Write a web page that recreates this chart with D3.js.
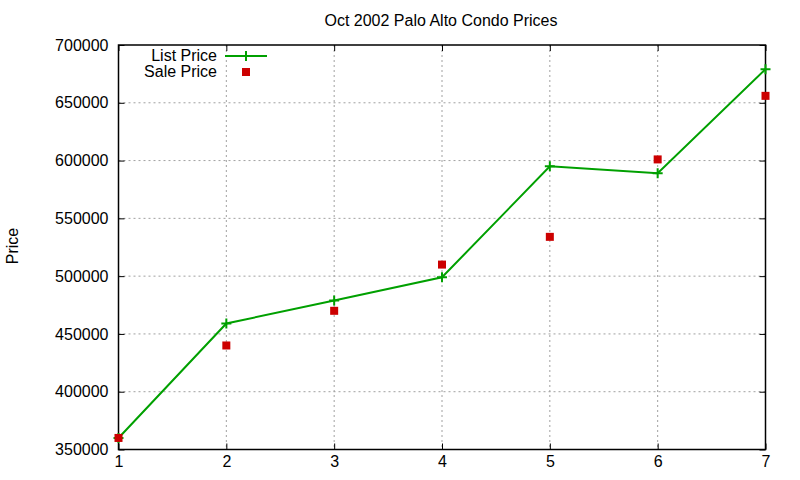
<!DOCTYPE html>
<html>
<head>
<meta charset="utf-8">
<script src="https://cdn.jsdelivr.net/npm/d3@7"></script>
<style>
  body { margin: 0; background: #fff; }
  svg { font-family: "Liberation Sans", Arial, sans-serif; }
</style>
</head>
<body>
<div id="chart"></div>
<script>
// data
var months = [1, 2, 3, 4, 5, 6, 7];
var listPrice = [360000, 459000, 479000, 499000, 595000, 589000, 679000];
var salePrice = [360000, 440000, 470000, 510000, 534000, 601000, 656000];
var yTicks = [350000, 400000, 450000, 500000, 550000, 600000, 650000, 700000];

var width = 800;
var height = 480;
var plotLeft = 118.5, plotRight = 765.5, plotTop = 45, plotBottom = 449.5;

var svg = d3.select("#chart")
  .append("svg")
  .attr("width", width)
  .attr("height", height);

var xScale = d3.scaleLinear().domain([1, 7]).range([plotLeft, plotRight]);
var yScale = d3.scaleLinear().domain([350000, 700000]).range([plotBottom, plotTop]);

// grid
var grid = svg.append("g").attr("class", "grid");
grid.selectAll("line.gx")
  .data(months.slice(1, -1))
  .enter()
  .append("line")
  .attr("x1", function(d) { return xScale(d); })
  .attr("x2", function(d) { return xScale(d); })
  .attr("y1", plotTop)
  .attr("y2", plotBottom);
grid.selectAll("line.gy")
  .data(yTicks.slice(1, -1))
  .enter()
  .append("line")
  .attr("x1", plotLeft)
  .attr("x2", plotRight)
  .attr("y1", function(d) { return yScale(d); })
  .attr("y2", function(d) { return yScale(d); });
grid.selectAll("line")
  .attr("stroke", "#a0a0a0")
  .attr("stroke-width", 1)
  .attr("stroke-dasharray", "2,3");

// axes, ticks inward on all four sides
var xAxis = d3.axisBottom(xScale).tickValues(months).tickSize(-6).tickPadding(6).tickFormat(d3.format("d"));
var xAxisTop = d3.axisTop(xScale).tickValues(months).tickSize(-6).tickFormat("");
var yAxis = d3.axisLeft(yScale).tickValues(yTicks).tickSize(-6).tickPadding(10).tickFormat(d3.format("d"));
var yAxisRight = d3.axisRight(yScale).tickValues(yTicks).tickSize(-6).tickFormat("");

svg.append("g").attr("transform", "translate(0," + plotBottom + ")").call(xAxis);
svg.append("g").attr("transform", "translate(0," + plotTop + ")").call(xAxisTop);
svg.append("g").attr("transform", "translate(" + plotLeft + ",0)").call(yAxis);
svg.append("g").attr("transform", "translate(" + plotRight + ",0)").call(yAxisRight);

svg.selectAll(".domain").remove();
svg.selectAll(".tick line").attr("stroke", "#000").attr("stroke-width", 1);
svg.selectAll(".tick text")
  .attr("fill", "#000")
  .style("font-size", "16px")
  .style("font-family", "Liberation Sans, Arial, sans-serif");

// frame
svg.append("rect")
  .attr("x", plotLeft)
  .attr("y", plotTop)
  .attr("width", plotRight - plotLeft)
  .attr("height", plotBottom - plotTop)
  .attr("fill", "none")
  .attr("stroke", "#000")
  .attr("stroke-width", 1.5);

// title and y label
svg.append("text")
  .attr("x", 441)
  .attr("y", 26)
  .attr("text-anchor", "middle")
  .style("font-size", "16px")
  .text("Oct 2002 Palo Alto Condo Prices");

svg.append("text")
  .attr("transform", "translate(18,246)rotate(-90)")
  .attr("text-anchor", "middle")
  .style("font-size", "16px")
  .text("Price");

// list price line
var green = "#00a000";
var red = "#cc0000";

var line = d3.line()
  .x(function(d, i) { return xScale(months[i]); })
  .y(function(d) { return yScale(d); });

svg.append("path")
  .datum(listPrice)
  .attr("d", line)
  .attr("fill", "none")
  .attr("stroke", green)
  .attr("stroke-width", 2);

function cross(g, x, y) {
  g.append("path")
    .attr("d", "M" + (x - 5) + "," + y + "H" + (x + 5) + "M" + x + "," + (y - 5) + "V" + (y + 5))
    .attr("stroke", green)
    .attr("stroke-width", 2);
}

var crosses = svg.append("g");
listPrice.forEach(function(d, i) {
  cross(crosses, xScale(months[i]), yScale(d));
});

// sale price squares
svg.append("g")
  .selectAll("rect")
  .data(salePrice)
  .enter()
  .append("rect")
  .attr("x", function(d, i) { return xScale(months[i]) - 4; })
  .attr("y", function(d) { return yScale(d) - 4; })
  .attr("width", 8)
  .attr("height", 8)
  .attr("fill", red);

// legend
var legend = svg.append("g");
legend.append("text")
  .attr("x", 217)
  .attr("y", 61)
  .attr("text-anchor", "end")
  .style("font-size", "16px")
  .text("List Price");
legend.append("text")
  .attr("x", 217)
  .attr("y", 77)
  .attr("text-anchor", "end")
  .style("font-size", "16px")
  .text("Sale Price");
legend.append("line")
  .attr("x1", 225)
  .attr("x2", 267)
  .attr("y1", 56)
  .attr("y2", 56)
  .attr("stroke", green)
  .attr("stroke-width", 2);
cross(legend, 246, 56);
legend.append("rect")
  .attr("x", 242)
  .attr("y", 68)
  .attr("width", 8)
  .attr("height", 8)
  .attr("fill", red);
</script>
</body>
</html>
